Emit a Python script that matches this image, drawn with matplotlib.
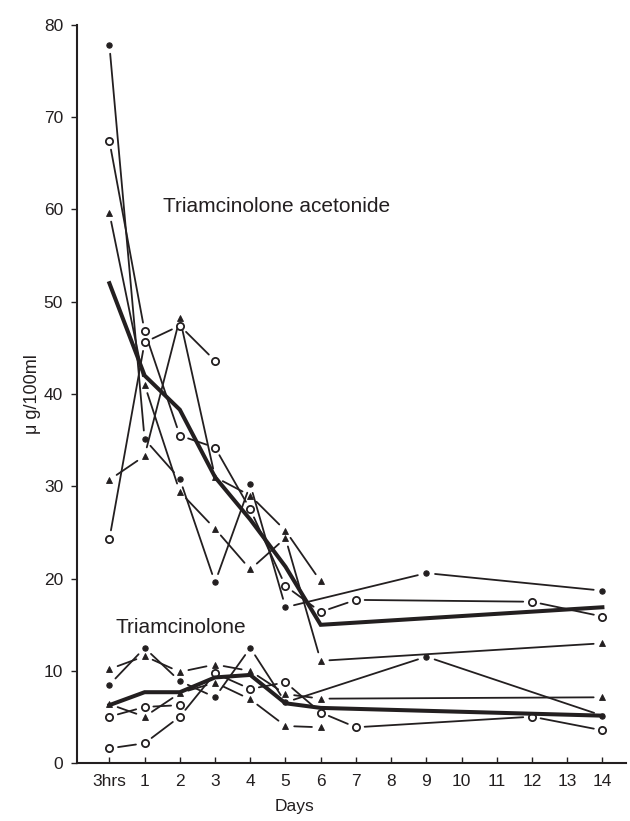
import matplotlib
matplotlib.use("Agg")
import matplotlib.pyplot as plt
from matplotlib import font_manager

plt.rcParams['font.family'] = ['Liberation Sans', 'DejaVu Sans']

# ---------------- data ----------------
x_labels = ['3hrs', '1', '2', '3', '4', '5', '6', '7', '8', '9', '10', '11', '12', '13', '14']
y_ticks = [0, 10, 20, 30, 40, 50, 60, 70, 80]

# Triamcinolone acetonide (upper group)
ta_fc_days = ['3hrs', '1', '2', '3', '4', '5', '9', '14']
ta_fc_vals = [77.8, 35.1, 30.8, 19.6, 30.2, 16.9, 20.6, 18.7]
ta_oc1_days = ['3hrs', '1', '2', '3', '4', '5', '6', '7', '12', '14']
ta_oc1_vals = [67.4, 46.8, 35.5, 34.2, 27.5, 19.2, 16.4, 17.7, 17.5, 15.9]
ta_tri1_days = ['3hrs', '1', '2', '3', '4', '5', '6', '14']
ta_tri1_vals = [59.6, 41.0, 29.4, 25.4, 21.0, 24.4, 11.1, 13.0]
ta_tri2_days = ['3hrs', '1', '2', '3', '4', '5', '6']
ta_tri2_vals = [30.7, 33.3, 48.2, 31.0, 29.0, 25.2, 19.7]
ta_oc2_days = ['3hrs', '1', '2', '3']
ta_oc2_vals = [24.3, 45.6, 47.4, 43.6]
ta_mean_days = ['3hrs', '1', '2', '3', '4', '5', '6', '14']
ta_mean_vals = [52.0, 42.0, 38.3, 31.0, 26.4, 21.3, 15.0, 16.9]

# Triamcinolone (lower group)
t_tri1_days = ['3hrs', '1', '2', '3', '4', '5', '6', '14']
t_tri1_vals = [10.2, 11.6, 9.9, 10.7, 10.0, 7.5, 7.0, 7.15]
t_fc_days = ['3hrs', '1', '2', '3', '4', '5', '9', '14']
t_fc_vals = [8.5, 12.5, 8.9, 7.15, 12.5, 6.6, 11.55, 5.16]
t_tri2_days = ['3hrs', '1', '2', '3', '4', '5', '6']
t_tri2_vals = [6.4, 5.05, 7.6, 8.74, 6.93, 4.04, 3.9]
t_oc1_days = ['3hrs', '1', '2']
t_oc1_vals = [5.05, 6.1, 6.3]
t_oc2_days = ['3hrs', '1', '2', '3', '4', '5', '6', '7', '12', '14']
t_oc2_vals = [1.62, 2.17, 5.05, 9.75, 8.05, 8.77, 5.5, 3.9, 5.05, 3.57]
t_mean_days = ['3hrs', '1', '2', '3', '4', '5', '6', '14']
t_mean_vals = [6.3, 7.7, 7.7, 9.3, 9.57, 6.5, 6.0, 5.16]

# ---------------- drawing ----------------
INK = '#231f20'
fig = plt.figure(figsize=(6.3, 8.21), dpi=100)
ax = fig.add_axes([77 / 630, 1 - 763.3 / 821, (626 - 77) / 630, (763.3 - 24.7) / 821])

pos = {lab: i for i, lab in enumerate(x_labels)}

marker_styles = {
    'fc': dict(marker='o', ms=3.8, mfc=INK, mec=INK, mew=0.8),
    'oc': dict(marker='o', ms=5.2, mfc='white', mec=INK, mew=1.3),
    'tri': dict(marker='^', ms=4.6, mfc=INK, mec=INK, mew=0.6),
}


def draw_series(days, vals, kind):
    xs = [pos[d] for d in days]
    for i in range(len(xs) - 1):
        ax.annotate('', xy=(xs[i + 1], vals[i + 1]), xytext=(xs[i], vals[i]),
                    arrowprops=dict(arrowstyle='-', shrinkA=6.3, shrinkB=6.3,
                                    lw=1.3, color=INK),
                    annotation_clip=False, zorder=2)
    ax.plot(xs, vals, linestyle='none', zorder=3, **marker_styles[kind])


def draw_mean(days, vals):
    xs = [pos[d] for d in days]
    ax.plot(xs, vals, color=INK, lw=2.9, solid_joinstyle='miter', zorder=4)


draw_series(ta_fc_days, ta_fc_vals, 'fc')
draw_series(ta_oc1_days, ta_oc1_vals, 'oc')
draw_series(ta_tri1_days, ta_tri1_vals, 'tri')
draw_series(ta_tri2_days, ta_tri2_vals, 'tri')
draw_series(ta_oc2_days, ta_oc2_vals, 'oc')
draw_mean(ta_mean_days, ta_mean_vals)

draw_series(t_tri1_days, t_tri1_vals, 'tri')
draw_series(t_fc_days, t_fc_vals, 'fc')
draw_series(t_tri2_days, t_tri2_vals, 'tri')
draw_series(t_oc1_days, t_oc1_vals, 'oc')
draw_series(t_oc2_days, t_oc2_vals, 'oc')
draw_mean(t_mean_days, t_mean_vals)

ax.text(1.52, 60.3, 'Triamcinolone acetonide', va='center', ha='left',
        fontsize=15, color=INK)
ax.text(0.16, 14.7, 'Triamcinolone', va='center', ha='left',
        fontsize=15, color=INK)

ax.set_xlim(-0.92, 14.67)
ax.set_ylim(0, 80)
ax.set_xticks(range(len(x_labels)))
ax.set_xticklabels(x_labels)
ax.set_yticks(y_ticks)

for s in ['top', 'right']:
    ax.spines[s].set_visible(False)
for s in ['left', 'bottom']:
    ax.spines[s].set_linewidth(1.5)
    ax.spines[s].set_color(INK)

ax.tick_params(axis='x', direction='in', length=4, width=1.0, pad=8,
               labelsize=12.5, colors=INK)
ax.tick_params(axis='y', direction='out', length=4, width=1.0, pad=6,
               labelsize=12.5, colors=INK)

names = {f.name for f in font_manager.fontManager.ttflist}
ylab_family = ['Liberation Sans Narrow', 'Liberation Sans'] if 'Liberation Sans Narrow' in names \
    else ['Liberation Sans', 'DejaVu Sans']
ax.set_ylabel('\u03bc g/100ml', fontsize=13, color=INK, labelpad=2,
              family=ylab_family)
ax.set_xlabel('Days', fontsize=12.5, color=INK, labelpad=4)
ax.xaxis.set_label_coords((294 - 77) / (626 - 77), -0.048)

fig.savefig('out.png', dpi=100)
